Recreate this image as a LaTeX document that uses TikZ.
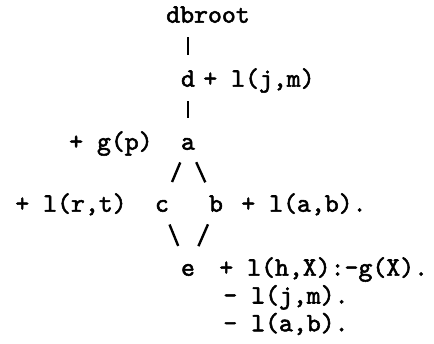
\documentclass[tikz,border=0pt]{standalone}
\usepackage{fontspec}
\newfontfamily\treefont{lmmono10-regular.otf}[FakeBold=2]
\usepackage{tikz}
\usetikzlibrary{positioning}
\tikzstyle{tree} = [inner sep=0pt, text height=11.4pt, text depth=0pt, font=\treefont\fontsize{26.5}{30}\selectfont]
\tikzstyle{link} = [line width=2.4pt, shorten <=20pt, shorten >=26pt]

\begin{document}
\begin{tikzpicture}[x=1pt, y=-1pt]
  \useasboundingbox (0,0) rectangle (434,343);
  % tree of states
  \node[tree] (root) at (208,17) {dbroot};
  \node[tree] (d) at (188,81) {d};
  \node[tree] (a) at (188,144) {a};
  \node[tree] (c) at (162,206) {c};
  \node[tree] (b) at (216,206) {b};
  \node[tree] (e) at (188,270) {e};
  % updates beside each state
  \node[tree, right=8pt of d] (dplus) {+ l(j,m)};
  \node[tree, left=28pt of a] (aplus) {+ g(p)};
  \node[tree, left=28pt of c] (cplus) {+ l(r,t)};
  \node[tree, right=18pt of b] (bplus) {+ l(a,b).};
  \node[tree, right=24pt of e] (eplus) {+ l(h,X):-g(X).};
  \node[tree, below right=16pt and 4pt of eplus.south west] (eminj) {- l(j,m).};
  \node[tree, below right=16pt and 0pt of eminj.south west] (emina) {- l(a,b).};
  % links
  \draw[link] (d |- root) -- (d.center);
  \draw[link] (d.center) -- (a.center);
  \draw[link] (a.center) -- (c.center);
  \draw[link] (a.center) -- (b.center);
  \draw[link] (c.center) -- (e.center);
  \draw[link] (b.center) -- (e.center);
\end{tikzpicture}
\end{document}
